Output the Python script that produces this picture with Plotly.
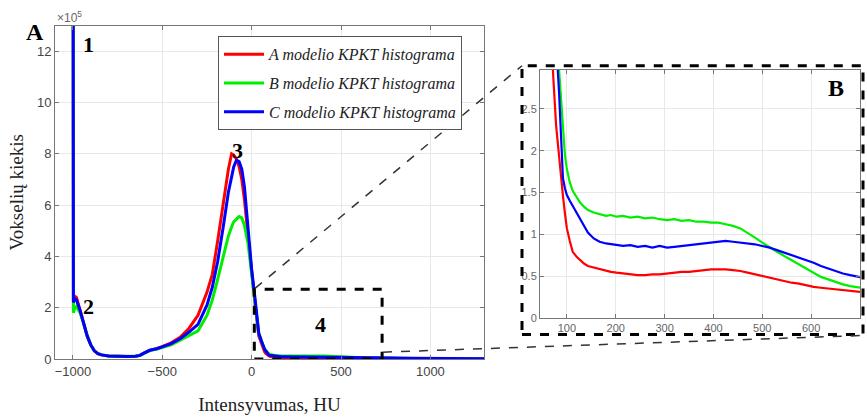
import plotly.graph_objects as go

# Intensity (HU) and voxel counts in units of 10^4 voxels
hu = [-1000, -997, -990, -980, -960, -940, -920, -900, -880, -860, -840, -800, -750, -700,
      -650, -625, -600, -570, -530, -500, -450, -400, -350, -300, -250, -220, -190, -160,
      -130, -112, -100, -85, -70, -55, -40, -20, 0, 20, 40, 55, 62, 68, 72, 78, 84, 88,
      92, 96, 100, 106, 112, 120, 127, 135, 143, 155, 167, 180, 190, 202, 215, 230, 245,
      260, 275, 290, 305, 320, 335, 350, 365, 380, 395, 410, 425, 440, 455, 470, 485, 500,
      515, 530, 545, 560, 575, 590, 605, 620, 635, 650, 665, 680, 695, 710, 800, 900, 1000,
      1100, 1200, 1300]

model_a = [300, 23, 24.5, 24, 19, 14, 9, 5.5, 3.2, 2.1, 1.6, 1.2, 1.05, 1.0,
           1.1, 1.4, 2.4, 3.4, 4.1, 4.8, 6.3, 8.5, 12, 17, 26, 33, 46, 60,
           74, 80, 79.5, 78, 75, 70, 62, 48, 33, 21, 9, 6.0, 4.2, 3.4, 2.9, 2.3, 1.9, 1.7,
           1.46, 1.25, 1.07, 0.92, 0.79, 0.73, 0.69, 0.65, 0.62, 0.60, 0.58, 0.56, 0.55, 0.54,
           0.53, 0.52, 0.51, 0.51, 0.52, 0.52, 0.53, 0.54, 0.55, 0.55, 0.56, 0.57, 0.58, 0.58,
           0.58, 0.57, 0.56, 0.54, 0.52, 0.50, 0.48, 0.46, 0.44, 0.42, 0.41, 0.39, 0.37, 0.36,
           0.35, 0.34, 0.33, 0.32, 0.31, 0.30, 0.22, 0.15, 0.10, 0.07, 0.05, 0.04]

model_b = [300, 18, 20, 20.5, 18, 14, 9, 5.5, 3.2, 2.1, 1.6, 1.2, 1.05, 1.0,
           1.1, 1.4, 2.3, 3.3, 3.9, 4.5, 5.5, 7.3, 9.3, 11, 17, 23, 31, 40,
           48, 51.5, 53.5, 54.5, 55.5, 55, 52, 45, 33, 22, 10, 7.0, 5.5, 4.4, 3.9, 3.4, 2.97, 2.6,
           2.19, 1.95, 1.78, 1.62, 1.52, 1.44, 1.38, 1.33, 1.29, 1.26, 1.24, 1.22, 1.23, 1.21,
           1.22, 1.20, 1.21, 1.19, 1.20, 1.18, 1.17, 1.18, 1.16, 1.17, 1.15, 1.15, 1.14, 1.14,
           1.12, 1.10, 1.07, 1.02, 0.96, 0.90, 0.84, 0.79, 0.74, 0.69, 0.63, 0.58, 0.53, 0.49,
           0.46, 0.43, 0.40, 0.38, 0.36, 0.35, 0.25, 0.17, 0.12, 0.08, 0.06, 0.05]

model_c = [300, 22, 23.5, 23, 19, 14, 9, 5.5, 3.2, 2.1, 1.6, 1.2, 1.05, 1.0,
           1.1, 1.4, 2.4, 3.4, 4.0, 4.7, 6.0, 7.9, 10.5, 13.5, 21, 28, 38, 51,
           65, 71, 75, 77.5, 77, 74, 67, 51, 35, 23, 10, 7.0, 5.5, 4.5, 3.9, 3.3, 2.7, 2.1,
           1.67, 1.55, 1.47, 1.40, 1.34, 1.26, 1.19, 1.11, 1.02, 0.95, 0.91, 0.89, 0.88, 0.87,
           0.86, 0.87, 0.85, 0.86, 0.84, 0.86, 0.84, 0.85, 0.86, 0.87, 0.88, 0.89, 0.90, 0.91,
           0.92, 0.91, 0.90, 0.89, 0.88, 0.86, 0.84, 0.81, 0.78, 0.75, 0.72, 0.69, 0.66, 0.62,
           0.59, 0.56, 0.53, 0.51, 0.49, 0.47, 0.35, 0.25, 0.18, 0.12, 0.09, 0.07]

names = ["<i>A modelio KPKT histograma</i>",
         "<i>B modelio KPKT histograma</i>",
         "<i>C modelio KPKT histograma</i>"]
colors = ["#ff0000", "#00ee00", "#0000ff"]
series = [model_a, model_b, model_c]

main_xticks = [-1000, -500, 0, 500, 1000]
main_yticks = [0, 2, 4, 6, 8, 10, 12]
inset_xticks = [100, 200, 300, 400, 500, 600]
inset_yticks = [0, 0.5, 1, 1.5, 2, 2.5]

# zoom region "4" (HU, x10^5)
box4_x = [15, 730]
box4_y = [0, 2.72]

W, H = 867, 419

fig = go.Figure()
for i, (nm, col, s) in enumerate(zip(names, colors, series)):
    fig.add_trace(go.Scatter(x=hu, y=[v / 10 for v in s], mode="lines", name=nm,
                             line=dict(color=col, width=3), legendgroup=str(i),
                             xaxis="x", yaxis="y"))
for i, (nm, col, s) in enumerate(zip(names, colors, series)):
    fig.add_trace(go.Scatter(x=hu, y=s, mode="lines", name=nm, showlegend=False,
                             line=dict(color=col, width=2.2), legendgroup=str(i),
                             xaxis="x2", yaxis="y2"))

def px(x):
    return x / W

def py(y):
    return 1 - y / H

axis_common = dict(showgrid=True, gridcolor="#e8e8e8", gridwidth=1, zeroline=False,
                   showline=True, linecolor="#777", linewidth=1, mirror="ticks",
                   ticks="inside", ticklen=4, tickcolor="#777")

fig.update_layout(
    width=W, height=H,
    margin=dict(l=0, r=0, t=0, b=0),
    paper_bgcolor="white", plot_bgcolor="white",
    font=dict(family="Liberation Sans, Arial", color="#444"),
    xaxis=dict(domain=[px(55), px(484)], range=[-1100, 1300], tickvals=main_xticks,
               tickfont=dict(size=13, color="#444"),
               title=dict(text="Intensyvumas, HU", standoff=20,
                          font=dict(family="Liberation Serif, Times New Roman", size=19, color="#222")),
               anchor="y", **axis_common),
    yaxis=dict(domain=[py(366), py(26)], range=[0, 13], tickvals=main_yticks,
               tickfont=dict(size=13, color="#444"),
               title=dict(text="Vokselių kiekis", standoff=8,
                          font=dict(family="Liberation Serif, Times New Roman", size=19, color="#222")),
               anchor="x", **axis_common),
    xaxis2=dict(domain=[px(540), px(860)], range=[45, 700], tickvals=inset_xticks,
                tickfont=dict(size=11, color="#666"), anchor="y2", **axis_common),
    yaxis2=dict(domain=[py(324), py(71)], range=[0, 2.97], tickvals=inset_yticks,
                tickfont=dict(size=11, color="#666"), anchor="x2", **axis_common),
    legend=dict(x=px(218), y=py(37), xanchor="left", yanchor="top",
                bgcolor="white", bordercolor="#555", borderwidth=1,
                font=dict(family="Liberation Serif, Times New Roman", size=16, color="#222"),
                traceorder="grouped", tracegroupgap=5, itemwidth=40),
    showlegend=True,
)

shapes = []
# dashed zoom box "4" in data coordinates
shapes.append(dict(type="rect", xref="x", yref="y", x0=box4_x[0], x1=box4_x[1],
                   y0=box4_y[0], y1=box4_y[1], line=dict(color="black", width=3, dash="dash")))
# inset frame
shapes.append(dict(type="rect", xref="paper", yref="paper", x0=px(522), x1=px(863),
                   y0=py(341), y1=py(67), line=dict(color="black", width=3, dash="dash")))
# connector lines
shapes.append(dict(type="line", xref="paper", yref="paper", x0=px(255), y0=py(294),
                   x1=px(522), y1=py(67), line=dict(color="#333", width=1.5, dash="dash")))
shapes.append(dict(type="line", xref="paper", yref="paper", x0=px(383), y0=py(359),
                   x1=px(863), y1=py(342), line=dict(color="#333", width=1.5, dash="dash")))
fig.update_layout(shapes=shapes)

serif_bold = dict(family="Liberation Serif, Times New Roman", color="black")
ann = [
    dict(text="<b>A</b>", x=px(35), y=py(33), font=dict(size=24, **serif_bold)),
    dict(text="<b>B</b>", x=px(836), y=py(90), font=dict(size=24, **serif_bold)),
    dict(text="<b>1</b>", x=px(88), y=py(45), font=dict(size=22, **serif_bold)),
    dict(text="<b>2</b>", x=px(88), y=py(312), font=dict(size=22, **serif_bold)),
    dict(text="<b>3</b>", x=px(237), y=py(153), font=dict(size=22, **serif_bold)),
    dict(text="<b>4</b>", x=px(320), y=py(331), font=dict(size=22, **serif_bold)),
    dict(text="×10<sup>5</sup>", x=px(55), y=py(17), xanchor="left",
         font=dict(size=12, family="Liberation Sans, Arial", color="#666")),
]
for a in ann:
    a.setdefault("xanchor", "center")
    fig.add_annotation(xref="paper", yref="paper", yanchor="middle", showarrow=False, **a)

fig.write_html("out.html")
